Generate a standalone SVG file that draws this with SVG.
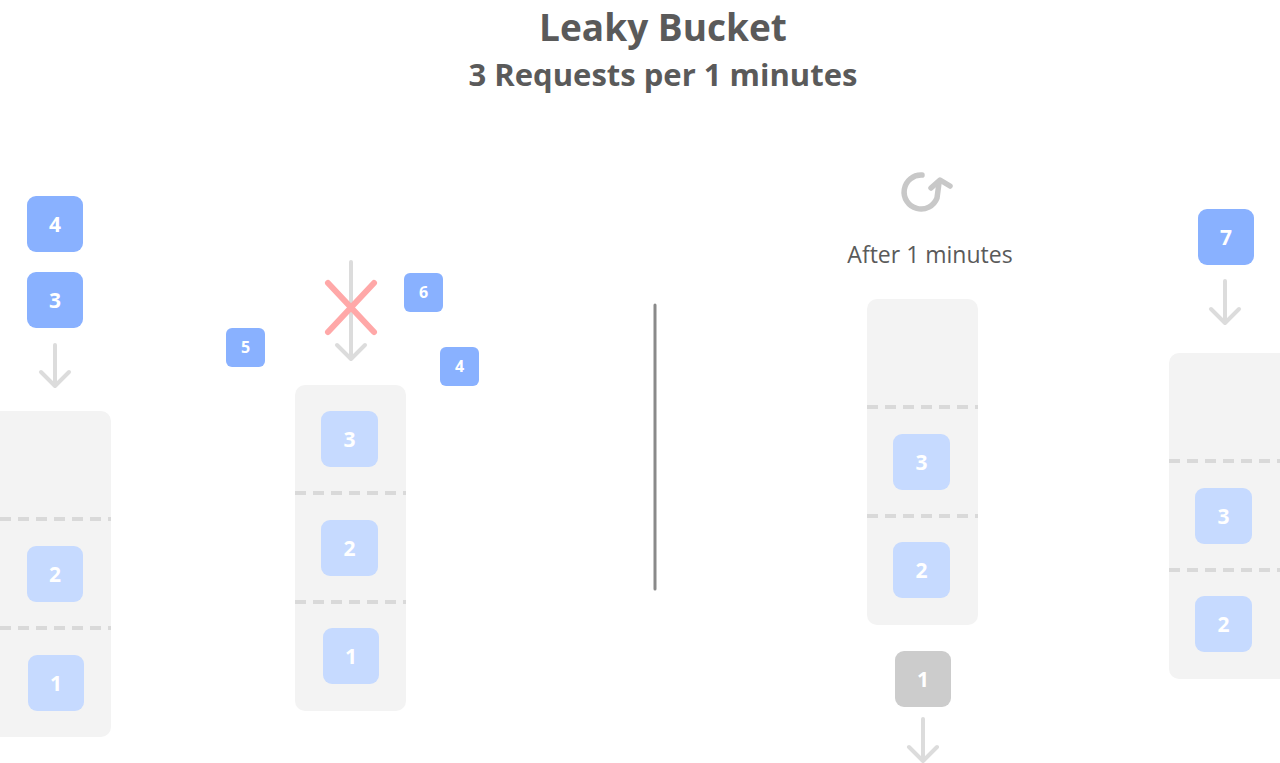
<svg xmlns="http://www.w3.org/2000/svg" width="1280" height="763" viewBox="0 0 1280 763">
<style>
text{font-family:"Open Sans","Noto Sans","Liberation Sans",sans-serif;}
.title{font-size:37px;font-weight:700;fill:#5a5a5a;text-anchor:middle;}
.sub{font-size:31px;font-weight:700;fill:#5a5a5a;text-anchor:middle;}
.cap{font-size:23px;fill:#5a5a5a;text-anchor:middle;}
.bucket{fill:#f3f3f3;}
.dash{stroke:#d9d9d9;stroke-width:4;stroke-dasharray:11 7;stroke-linecap:butt;fill:none;}
.req{fill:#89b1ff;}
.done{fill:#c6daff;}
.gone{fill:#cccccc;}
.big{font-size:21px;font-weight:700;fill:#fff;text-anchor:middle;}
.small{font-size:16px;font-weight:700;fill:#fff;text-anchor:middle;}
.arr{stroke:#dcdcdc;stroke-width:4;fill:none;stroke-linecap:round;stroke-linejoin:round;}
.cross{stroke:#ffa8a8;stroke-width:6;stroke-linecap:round;}
</style>
<rect width="1280" height="763" fill="#ffffff"/>
<text class="title" x="663" y="41">Leaky Bucket</text>
<text class="sub" x="663" y="86">3 Requests per 1 minutes</text>

<g id="connectors">
<path class="arr" d="M55,345 V385 M41,372 L55,386 L69,372"/>
<path class="arr" d="M351,262 V358 M337,345 L351,359 L365,345"/>
<path class="arr" d="M923,719 V760 M909,747 L923,761 L937,747"/>
<path class="arr" d="M1225,281 V322 M1211,309 L1225,323 L1239,309"/>
</g>

<g id="bucket-a">
<rect class="bucket" x="-10" y="411" width="121" height="326" rx="10"/>
<line class="dash" x1="0" y1="519" x2="111" y2="519"/>
<line class="dash" x1="0" y1="628" x2="111" y2="628"/>
</g>
<g id="req-a4"><rect class="req" x="27" y="196" width="56" height="56" rx="9"/><text class="big" x="55" y="231.5">4</text></g>
<g id="req-a3"><rect class="req" x="27" y="272" width="56" height="56" rx="9"/><text class="big" x="55" y="307.5">3</text></g>
<g id="req-a2"><rect class="done" x="27" y="546" width="56" height="56" rx="9"/><text class="big" x="55" y="581.5">2</text></g>
<g id="req-a1"><rect class="done" x="28" y="655" width="56" height="56" rx="9"/><text class="big" x="56" y="690.5">1</text></g>

<g id="bucket-b">
<rect class="bucket" x="295" y="385" width="111" height="326" rx="10"/>
<line class="dash" x1="295" y1="493" x2="406" y2="493"/>
<line class="dash" x1="295" y1="602" x2="406" y2="602"/>
</g>
<g id="req-b3"><rect class="done" x="321" y="411" width="57" height="56" rx="9"/><text class="big" x="349.5" y="446.5">3</text></g>
<g id="req-b2"><rect class="done" x="321" y="520" width="57" height="56" rx="9"/><text class="big" x="349.5" y="555.5">2</text></g>
<g id="req-b1"><rect class="done" x="323" y="628" width="56" height="56" rx="9"/><text class="big" x="351" y="663.5">1</text></g>
<g id="reject">
<line class="cross" x1="328" y1="283" x2="374" y2="332"/>
<line class="cross" x1="374" y1="283" x2="328" y2="332"/>
</g>
<g id="req-b5"><rect class="req" x="226" y="328" width="39" height="39" rx="6"/><text class="small" x="245.5" y="353">5</text></g>
<g id="req-b6"><rect class="req" x="404" y="273" width="39" height="39" rx="6"/><text class="small" x="423.5" y="298">6</text></g>
<g id="req-b4"><rect class="req" x="440" y="347" width="39" height="39" rx="6"/><text class="small" x="459.5" y="372">4</text></g>

<g id="divider"><line x1="655" y1="305" x2="655" y2="589" stroke="#8a8a8a" stroke-width="3" stroke-linecap="round"/></g>

<g id="refresh">
<path d="M922,175 A17 17 0 1 0 937,198 L939,183" fill="none" stroke="#c8c8c8" stroke-width="5.5" stroke-linecap="round"/>
<path d="M931,188 L940,180 L950,186" fill="none" stroke="#c8c8c8" stroke-width="5.5" stroke-linecap="round" stroke-linejoin="round"/>
</g>
<text class="cap" x="930" y="263">After 1 minutes</text>

<g id="bucket-c">
<rect class="bucket" x="867" y="299" width="111" height="326" rx="10"/>
<line class="dash" x1="867" y1="407" x2="978" y2="407"/>
<line class="dash" x1="867" y1="516" x2="978" y2="516"/>
</g>
<g id="req-c3"><rect class="done" x="893" y="434" width="57" height="56" rx="9"/><text class="big" x="921.5" y="469.5">3</text></g>
<g id="req-c2"><rect class="done" x="893" y="542" width="57" height="56" rx="9"/><text class="big" x="921.5" y="577.5">2</text></g>
<g id="req-c1"><rect class="gone" x="895" y="651" width="56" height="56" rx="9"/><text class="big" x="923" y="686.5">1</text></g>

<g id="bucket-d">
<rect class="bucket" x="1169" y="353" width="121" height="326" rx="10"/>
<line class="dash" x1="1169" y1="461" x2="1280" y2="461"/>
<line class="dash" x1="1169" y1="570" x2="1280" y2="570"/>
</g>
<g id="req-d7"><rect class="req" x="1198" y="209" width="56" height="56" rx="9"/><text class="big" x="1226" y="244.5">7</text></g>
<g id="req-d3"><rect class="done" x="1195" y="488" width="57" height="56" rx="9"/><text class="big" x="1223.5" y="523.5">3</text></g>
<g id="req-d2"><rect class="done" x="1195" y="596" width="57" height="56" rx="9"/><text class="big" x="1223.5" y="631.5">2</text></g>
</svg>
